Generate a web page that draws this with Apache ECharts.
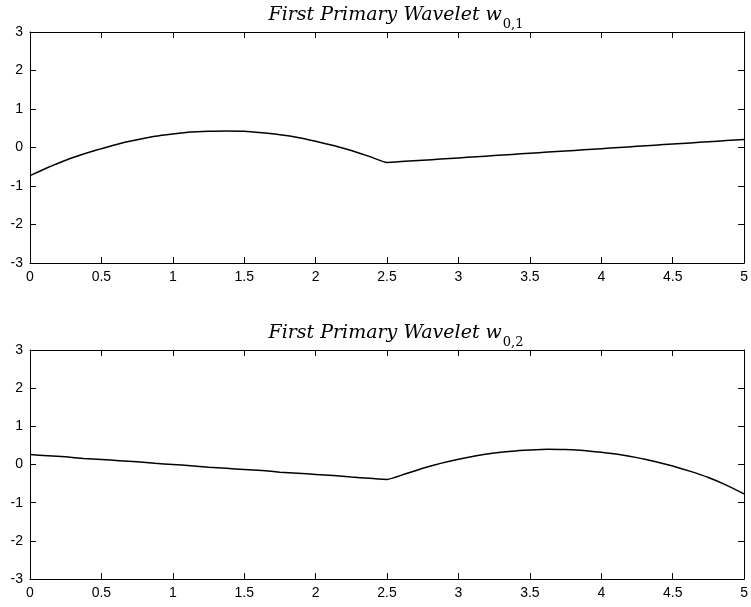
<!DOCTYPE html>
<html>
<head>
<meta charset="utf-8">
<script src="https://cdn.jsdelivr.net/npm/echarts@6/dist/echarts.min.js"></script>
<style>
  html, body { margin: 0; padding: 0; background: #fff; }
  #chart { width: 751px; height: 607px; }
</style>
</head>
<body>
<div id="chart"></div>
<script>
// sample positions along t (shared by both panels)
const xs = [0, 0.125, 0.25, 0.375, 0.5, 0.625, 0.75, 0.875, 1, 1.125, 1.25, 1.375, 1.5, 1.625, 1.75, 1.875, 2,
  2.125, 2.25, 2.375, 2.5, 2.625, 2.75, 2.875, 3, 3.125, 3.25, 3.375, 3.5, 3.625, 3.75, 3.875, 4,
  4.125, 4.25, 4.375, 4.5, 4.625, 4.75, 4.875, 5];

// w_{0,1}
const w01 = [-0.73, -0.52, -0.33, -0.17, -0.03, 0.10, 0.20, 0.29, 0.35, 0.40, 0.42, 0.43, 0.42, 0.38, 0.33, 0.26, 0.16,
  0.05, -0.08, -0.23, -0.39, -0.36, -0.33, -0.30, -0.27, -0.24, -0.21, -0.18, -0.15, -0.12, -0.09, -0.06, -0.03,
  0.00, 0.03, 0.06, 0.09, 0.12, 0.15, 0.18, 0.21];

// w_{0,2}
const w02 = [0.26, 0.23, 0.20, 0.16, 0.13, 0.10, 0.07, 0.03, 0.00, -0.03, -0.07, -0.10, -0.13, -0.16, -0.20, -0.23, -0.26,
  -0.29, -0.33, -0.36, -0.39, -0.25, -0.10, 0.03, 0.14, 0.23, 0.30, 0.35, 0.38, 0.40, 0.39, 0.37, 0.32,
  0.26, 0.18, 0.08, -0.04, -0.18, -0.34, -0.54, -0.77];

const titles = ['0,1', '0,2'];
const xRange = [0, 5], xStep = 0.5;
const yRange = [-3, 3], yStep = 1;

const labelFont = { fontFamily: 'Liberation Sans', fontSize: 14, color: '#000' };
const lineStyle = { color: '#000', width: 1 };

function xAxis(grid, pos) {
  return {
    type: 'value', gridIndex: grid, position: pos,
    min: xRange[0], max: xRange[1], interval: xStep,
    axisLine: { show: true, onZero: false, lineStyle },
    axisTick: { show: true, inside: true, length: 6, lineStyle },
    axisLabel: Object.assign({ show: pos === 'bottom', margin: 7 }, labelFont),
    splitLine: { show: false }
  };
}
function yAxis(grid, pos) {
  return {
    type: 'value', gridIndex: grid, position: pos,
    min: yRange[0], max: yRange[1], interval: yStep,
    axisLine: { show: true, onZero: false, lineStyle },
    axisTick: { show: true, inside: true, length: 6, lineStyle },
    axisLabel: Object.assign({ show: pos === 'left', margin: 7 }, labelFont),
    splitLine: { show: false }
  };
}

const titleRich = {
  t: { fontFamily: 'DejaVu Serif', fontStyle: 'italic', fontWeight: 'normal', fontSize: 19, color: '#000' },
  s: { fontFamily: 'DejaVu Serif', fontWeight: 'normal', fontSize: 13, color: '#000', verticalAlign: 'bottom', padding: [0, 0, -6, 1] }
};

const option = {
  animation: false,
  backgroundColor: '#fff',
  title: titles.map((s, i) => ({
    text: '{t|First Primary Wavelet w}{s|' + s + '}',
    left: 391, top: i === 0 ? 1 : 319, textAlign: 'center',
    textStyle: { fontWeight: 'normal', rich: titleRich }
  })),
  grid: [
    { left: 30, right: 5, top: 32, height: 231 },
    { left: 30, right: 5, top: 350, height: 229 }
  ],
  xAxis: [xAxis(0, 'bottom'), xAxis(0, 'top'), xAxis(1, 'bottom'), xAxis(1, 'top')],
  yAxis: [yAxis(0, 'left'), yAxis(0, 'right'), yAxis(1, 'left'), yAxis(1, 'right')],
  series: [w01, w02].map((ys, i) => ({
    type: 'line',
    xAxisIndex: i * 2, yAxisIndex: i * 2,
    data: xs.map((x, k) => [x, ys[k]]),
    showSymbol: false,
    smooth: 0.15,
    lineStyle: { color: '#000', width: 1.5 }
  }))
};

const myChart = echarts.init(document.getElementById('chart'));
myChart.setOption(option);
</script>
</body>
</html>
